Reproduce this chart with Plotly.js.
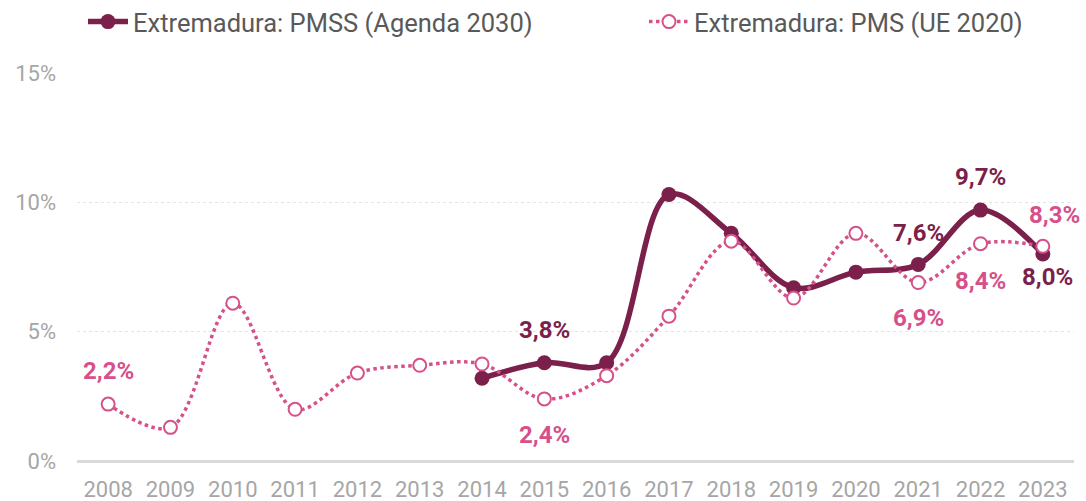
<!DOCTYPE html>
<html>
<head>
<meta charset="utf-8">
<script src="https://cdn.plot.ly/plotly-3.0.1.min.js"></script>
<style>html,body{margin:0;padding:0;background:#fff;}#chart{width:1086px;height:501px;}</style>
</head>
<body>
<div id="chart"></div>
<script>
const years = ["2008","2009","2010","2011","2012","2013","2014","2015","2016","2017","2018","2019","2020","2021","2022","2023"];
const pmssYears = ["2014","2015","2016","2017","2018","2019","2020","2021","2022","2023"];
const pmssValues = [3.2, 3.8, 3.8, 10.3, 8.8, 6.7, 7.3, 7.6, 9.7, 8.0];
const pmsValues = [2.2, 1.3, 6.1, 2.0, 3.4, 3.7, 3.75, 2.4, 3.3, 5.6, 8.5, 6.3, 8.8, 6.9, 8.4, 8.3];
const yTicks = [0, 5, 10, 15];
const yTickLabels = ["0%", "5%", "10%", "15%"];
const pmssName = "Extremadura: PMSS (Agenda 2030)";
const pmsName = "Extremadura: PMS (UE 2020)";

const colPMSS = "#7B1F4B";
const colPMS = "#D6508A";
const FONT = "Roboto, 'Open Sans', sans-serif";

// data labels: [series, year, xshift, yshift]
const labelSpec = [
  ["pms", "2008", 0, 33],
  ["pmss", "2015", 0, 33],
  ["pms", "2015", 0, -36],
  ["pmss", "2021", 0, 31],
  ["pmss", "2022", 0, 33],
  ["pmss", "2023", 5, -23],
  ["pms", "2021", 0, -35],
  ["pms", "2022", 0, -37],
  ["pms", "2023", 12, 31]
];

function fmt(v){ return v.toFixed(1).replace(".", ",") + "%"; }

const annotations = labelSpec.map(([s, yr, xs, ys]) => {
  const v = s === "pmss" ? pmssValues[pmssYears.indexOf(yr)] : pmsValues[years.indexOf(yr)];
  return {
    x: years.indexOf(yr), y: v, xref: "x", yref: "y", text: "<b>" + fmt(v) + "</b>",
    showarrow: false, xshift: xs, yshift: ys,
    font: {family: FONT, size: 24, color: s === "pmss" ? colPMSS : colPMS}
  };
});

const traces = [
  {
    x: pmssYears, y: pmssValues, name: pmssName, type: "scatter", mode: "lines+markers",
    line: {color: colPMSS, width: 5.5, shape: "spline", smoothing: 1},
    marker: {color: colPMSS, size: 15, symbol: "circle"},
    hoverinfo: "skip", legend: "legend"
  },
  {
    x: years, y: pmsValues, name: pmsName, type: "scatter", mode: "lines+markers",
    line: {color: colPMS, width: 3.5, dash: "dot", shape: "spline", smoothing: 1},
    marker: {color: "#ffffff", size: 13, symbol: "circle", line: {color: colPMS, width: 2}},
    hoverinfo: "skip", legend: "legend2"
  }
];

const legendBase = {
  orientation: "h", xanchor: "left", yref: "container", y: 0.956, yanchor: "middle",
  xref: "container",
  font: {family: FONT, size: 25.5, color: "#595959"}, itemwidth: 40,
  bgcolor: "rgba(0,0,0,0)"
};

const layout = {
  width: 1086, height: 501,
  margin: {l: 77, r: 12, t: 73, b: 40},
  paper_bgcolor: "#fff", plot_bgcolor: "#fff",
  font: {family: FONT, color: "#A6A6A6", size: 22},
  showlegend: true,
  legend: Object.assign({}, legendBase, {x: 83 / 1086}),
  legend2: Object.assign({}, legendBase, {x: 644 / 1086}),
  xaxis: {
    type: "category", categoryorder: "array", categoryarray: years,
    range: [-0.5, 15.5], showgrid: false, zeroline: false,
    showline: false, ticks: "", ticklabelstandoff: 13,
    tickfont: {family: FONT, size: 22, color: "#A6A6A6"}, fixedrange: true
  },
  yaxis: {
    range: [0, 15], tickvals: yTicks, ticktext: yTickLabels,
    showgrid: true, gridcolor: "#E4E4E4", griddash: "dot", gridwidth: 1,
    zeroline: true, zerolinecolor: "#D9D9D9", zerolinewidth: 3,
    showline: false, ticks: "", ticklabelstandoff: 20,
    tickfont: {family: FONT, size: 22, color: "#A6A6A6"}, fixedrange: true
  },
  annotations: annotations
};

Plotly.newPlot("chart", traces, layout, {displayModeBar: false, staticPlot: true});
</script>
</body>
</html>
